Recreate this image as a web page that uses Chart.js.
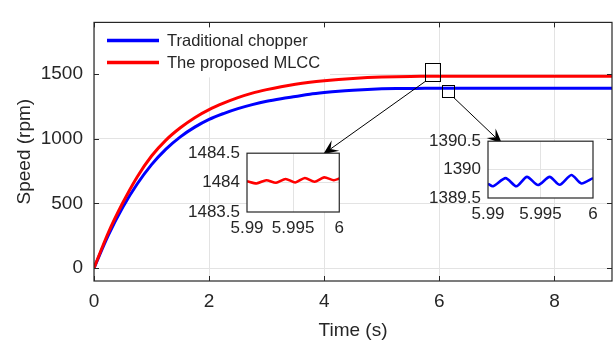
<!DOCTYPE html>
<html><head><meta charset="utf-8">
<script src="https://cdn.jsdelivr.net/npm/chart.js@4.4.1/dist/chart.umd.min.js"></script>
<style>
html,body{margin:0;padding:0;background:#fff;}
#wrap{position:relative;width:616px;height:344px;overflow:hidden;background:#fff;}
canvas{position:absolute;}
</style></head><body>
<div id="wrap">
<canvas id="main" style="left:0;top:0;width:616px;height:344px" width="616" height="344"></canvas>
<canvas id="inset1" style="left:170px;top:136px;width:180px;height:110px" width="180" height="110"></canvas>
<canvas id="inset2" style="left:410px;top:124px;width:200px;height:110px" width="200" height="110"></canvas>
</div>
<script>
// ---------- data ----------
const timeS = [0,0.25,0.5,0.75,1,1.25,1.5,1.75,2,2.25,2.5,2.75,3,3.25,3.5,3.75,4,4.25,4.5,4.75,5,5.25,5.5,5.75,6,6.5,7,7.5,8,8.5,9];
const traditionalSpeed = [0,255,470,650,800,920,1015,1090,1150,1195,1233,1264,1290,1310,1327,1344,1357,1368,1376,1382,1386,1388,1389,1390,1390,1390,1390,1390,1390,1390,1390];
const mlccSpeed = [0,275,505,705,867,990,1085,1163,1225,1275,1318,1353,1380,1403,1422,1437,1449,1459,1467,1473,1477,1480,1482,1483,1484,1484,1484,1484,1484,1484,1484];
const seriesNames = ['Traditional chopper','The proposed MLCC'];
const timeTicks = [0,2,4,6,8];
const speedTicks = [0,500,1000,1500];

// zoomed windows (inset data)
const mlccZoomT = [5.99,5.99105,5.99209,5.99314,5.99418,5.99523,5.99627,5.99732,5.99836,5.99941,6.0];
const mlccZoomV = [1484.024,1483.986,1484.041,1483.997,1484.062,1484.003,1484.078,1484.014,1484.089,1484.041,1484.068];
const tradZoomT = [5.99,5.99048,5.99168,5.9927,5.99371,5.99476,5.99587,5.99683,5.99794,5.99889,6.0];
const tradZoomV = [1389.75,1389.706,1389.85,1389.706,1389.872,1389.728,1389.872,1389.733,1389.906,1389.756,1389.85];
const zoomTimeTicks = [5.99,5.995,6];
const zoomTimeLabels = ['5.99','5.995','6'];
const mlccZoomTicks = [1483.5,1484,1484.5];
const tradZoomTicks = [1389.5,1390,1390.5];

// ---------- styling ----------
const BLUE = '#0000ff', RED = '#ff0000', INK = '#262626', GRID = '#e3e3e3';
const FONT = '"Liberation Sans", Arial, Helvetica, sans-serif';

// annotation geometry in main-chart data coordinates
const zoomBoxes = [
  {x0:5.751, x1:6.011, y0:1442, y1:1583},
  {x0:6.046, x1:6.254, y0:1317, y1:1413}
];
const arrowsDef = [
  {from:[5.751,1442], to:[3.983,881]},
  {from:[6.254,1317], to:[7.088,963]}
];

function xy(t, v){ return t.map((x,i)=>({x:x, y:v[i]})); }

function drawArrow(ctx, x1, y1, x2, y2){
  const ang = Math.atan2(y2-y1, x2-x1);
  const L = 15, W = 6.5, N = 9;
  ctx.save();
  ctx.strokeStyle = '#000'; ctx.fillStyle = '#000'; ctx.lineWidth = 1;
  ctx.beginPath(); ctx.moveTo(x1,y1);
  ctx.lineTo(x2 - Math.cos(ang)*N, y2 - Math.sin(ang)*N); ctx.stroke();
  ctx.translate(x2,y2); ctx.rotate(ang);
  ctx.beginPath();
  ctx.moveTo(0,0); ctx.lineTo(-L,-W); ctx.lineTo(-N,0); ctx.lineTo(-L,W); ctx.closePath();
  ctx.fill();
  ctx.restore();
}

const mainDecor = {
  id:'mainDecor',
  afterDatasetsDraw(chart){
    const ctx = chart.ctx, a = chart.chartArea, xs = chart.scales.x, ys = chart.scales.y;
    ctx.save();
    // legend (white background, no border)
    ctx.fillStyle = '#fff';
    ctx.fillRect(a.left+3, a.top+4, 233, 51);
    const ds = chart.data.datasets;
    const rows = [a.top+18, a.top+40];
    [0,1].forEach(i=>{
      ctx.strokeStyle = ds[i].borderColor; ctx.lineWidth = 3.5;
      ctx.beginPath(); ctx.moveTo(a.left+13, rows[i]); ctx.lineTo(a.left+65, rows[i]); ctx.stroke();
      ctx.fillStyle = INK; ctx.font = '16.5px ' + FONT; ctx.textBaseline = 'middle'; ctx.textAlign = 'left';
      ctx.fillText(ds[i].label, a.left+73, rows[i]+1);
    });
    // frame and inward ticks
    ctx.strokeStyle = INK; ctx.lineWidth = 1.2;
    ctx.strokeRect(a.left, a.top, a.right-a.left, a.bottom-a.top);
    ctx.lineWidth = 1;
    timeTicks.forEach(v=>{
      const px = Math.round(xs.getPixelForValue(v))+0.5;
      ctx.beginPath(); ctx.moveTo(px,a.bottom); ctx.lineTo(px,a.bottom-5);
      ctx.moveTo(px,a.top); ctx.lineTo(px,a.top+5); ctx.stroke();
    });
    speedTicks.forEach(v=>{
      const py = Math.round(ys.getPixelForValue(v))+0.5;
      ctx.beginPath(); ctx.moveTo(a.left,py); ctx.lineTo(a.left+5,py);
      ctx.moveTo(a.right,py); ctx.lineTo(a.right-5,py); ctx.stroke();
    });
    // zoom boxes
    ctx.strokeStyle = '#000'; ctx.lineWidth = 1;
    zoomBoxes.forEach(b=>{
      const x0 = xs.getPixelForValue(b.x0), x1 = xs.getPixelForValue(b.x1);
      const y0 = ys.getPixelForValue(b.y0), y1 = ys.getPixelForValue(b.y1);
      ctx.strokeRect(Math.round(x0)+0.5, Math.round(y1)+0.5, Math.round(x1-x0), Math.round(y0-y1));
    });
    arrowsDef.forEach(r=>{
      drawArrow(ctx, xs.getPixelForValue(r.from[0]), ys.getPixelForValue(r.from[1]),
                     xs.getPixelForValue(r.to[0]), ys.getPixelForValue(r.to[1]));
    });
    ctx.restore();
  }
};

new Chart(document.getElementById('main'), {
  type:'line',
  data:{ datasets:[
    {label:seriesNames[0], data:xy(timeS, traditionalSpeed), borderColor:BLUE, borderWidth:3, pointRadius:0, cubicInterpolationMode:'monotone', order:1},
    {label:seriesNames[1], data:xy(timeS, mlccSpeed), borderColor:RED, borderWidth:3, pointRadius:0, cubicInterpolationMode:'monotone', order:0}
  ]},
  options:{
    responsive:false, animation:false, events:[],
    layout:{padding:{top:10,right:4,left:0,bottom:0}},
    plugins:{legend:{display:false}, tooltip:{enabled:false}},
    scales:{
      x:{type:'linear', min:0, max:9,
        afterBuildTicks:s=>{ s.ticks = timeTicks.map(v=>({value:v})); },
        afterFit:s=>{ s.height = 63; },
        grid:{color:GRID, drawTicks:false}, border:{display:false},
        ticks:{color:INK, font:{family:FONT, size:19}, padding:9, maxRotation:0, callback:(val)=> String(val)},
        title:{display:true, text:'Time (s)', color:INK, font:{family:FONT, size:19, lineHeight:1.2}, padding:{top:0,bottom:2}}
      },
      y:{type:'linear', min:-100, max:1900,
        afterBuildTicks:s=>{ s.ticks = speedTicks.map(v=>({value:v})); },
        afterFit:s=>{ s.width = 94; },
        grid:{color:GRID, drawTicks:false}, border:{display:false},
        ticks:{color:INK, font:{family:FONT, size:19}, padding:11, callback:(val)=> String(val)},
        title:{display:true, text:'Speed (rpm)', color:INK, font:{family:FONT, size:19, lineHeight:1.2}, padding:{top:13,bottom:0}}
      }
    }
  },
  plugins:[mainDecor]
});

const insetDecor = {
  id:'insetDecor',
  beforeDraw(chart){
    const a = chart.chartArea, ctx = chart.ctx;
    ctx.save(); ctx.fillStyle = '#fff';
    ctx.fillRect(a.left, a.top, a.right-a.left, a.bottom-a.top); ctx.restore();
  },
  afterDatasetsDraw(chart){
    const a = chart.chartArea, ctx = chart.ctx;
    ctx.save(); ctx.strokeStyle = INK; ctx.lineWidth = 1.2;
    ctx.strokeRect(a.left, a.top, a.right-a.left, a.bottom-a.top); ctx.restore();
  }
};

function makeInset(id, t, v, color, yTicks, yw, xh, padTop, padRight){
  new Chart(document.getElementById(id), {
    type:'line',
    data:{datasets:[{data:xy(t,v), borderColor:color, borderWidth:2.6, pointRadius:0, tension:0.25}]},
    options:{
      responsive:false, animation:false, events:[],
      layout:{padding:{top:padTop,right:padRight,left:0,bottom:0}},
      plugins:{legend:{display:false}, tooltip:{enabled:false}},
      scales:{
        x:{type:'linear', min:zoomTimeTicks[0], max:zoomTimeTicks[zoomTimeTicks.length-1],
          afterBuildTicks:s=>{ s.ticks = zoomTimeTicks.map(val=>({value:val})); },
          afterFit:s=>{ s.height = xh; },
          grid:{color:(c)=> (c.index===1 ? GRID : 'rgba(0,0,0,0)'), drawTicks:false}, border:{display:false},
          ticks:{color:INK, font:{family:FONT, size:17}, padding:6, maxRotation:0,
            callback:(val, i)=> zoomTimeLabels[i]}
        },
        y:{type:'linear', min:yTicks[0], max:yTicks[yTicks.length-1],
          afterBuildTicks:s=>{ s.ticks = yTicks.map(val=>({value:val})); },
          afterFit:s=>{ s.width = yw; },
          grid:{color:(c)=> (c.index===1 ? GRID : 'rgba(0,0,0,0)'), drawTicks:false}, border:{display:false},
          ticks:{color:INK, font:{family:FONT, size:17}, padding:7, callback:(val)=> String(val)}
        }
      }
    },
    plugins:[insetDecor]
  });
}
makeInset('inset1', mlccZoomT, mlccZoomV, RED, mlccZoomTicks, 77, 34, 14, 8);
makeInset('inset2', tradZoomT, tradZoomV, BLUE, tradZoomTicks, 78, 36, 14, 17);
</script>
</body></html>
